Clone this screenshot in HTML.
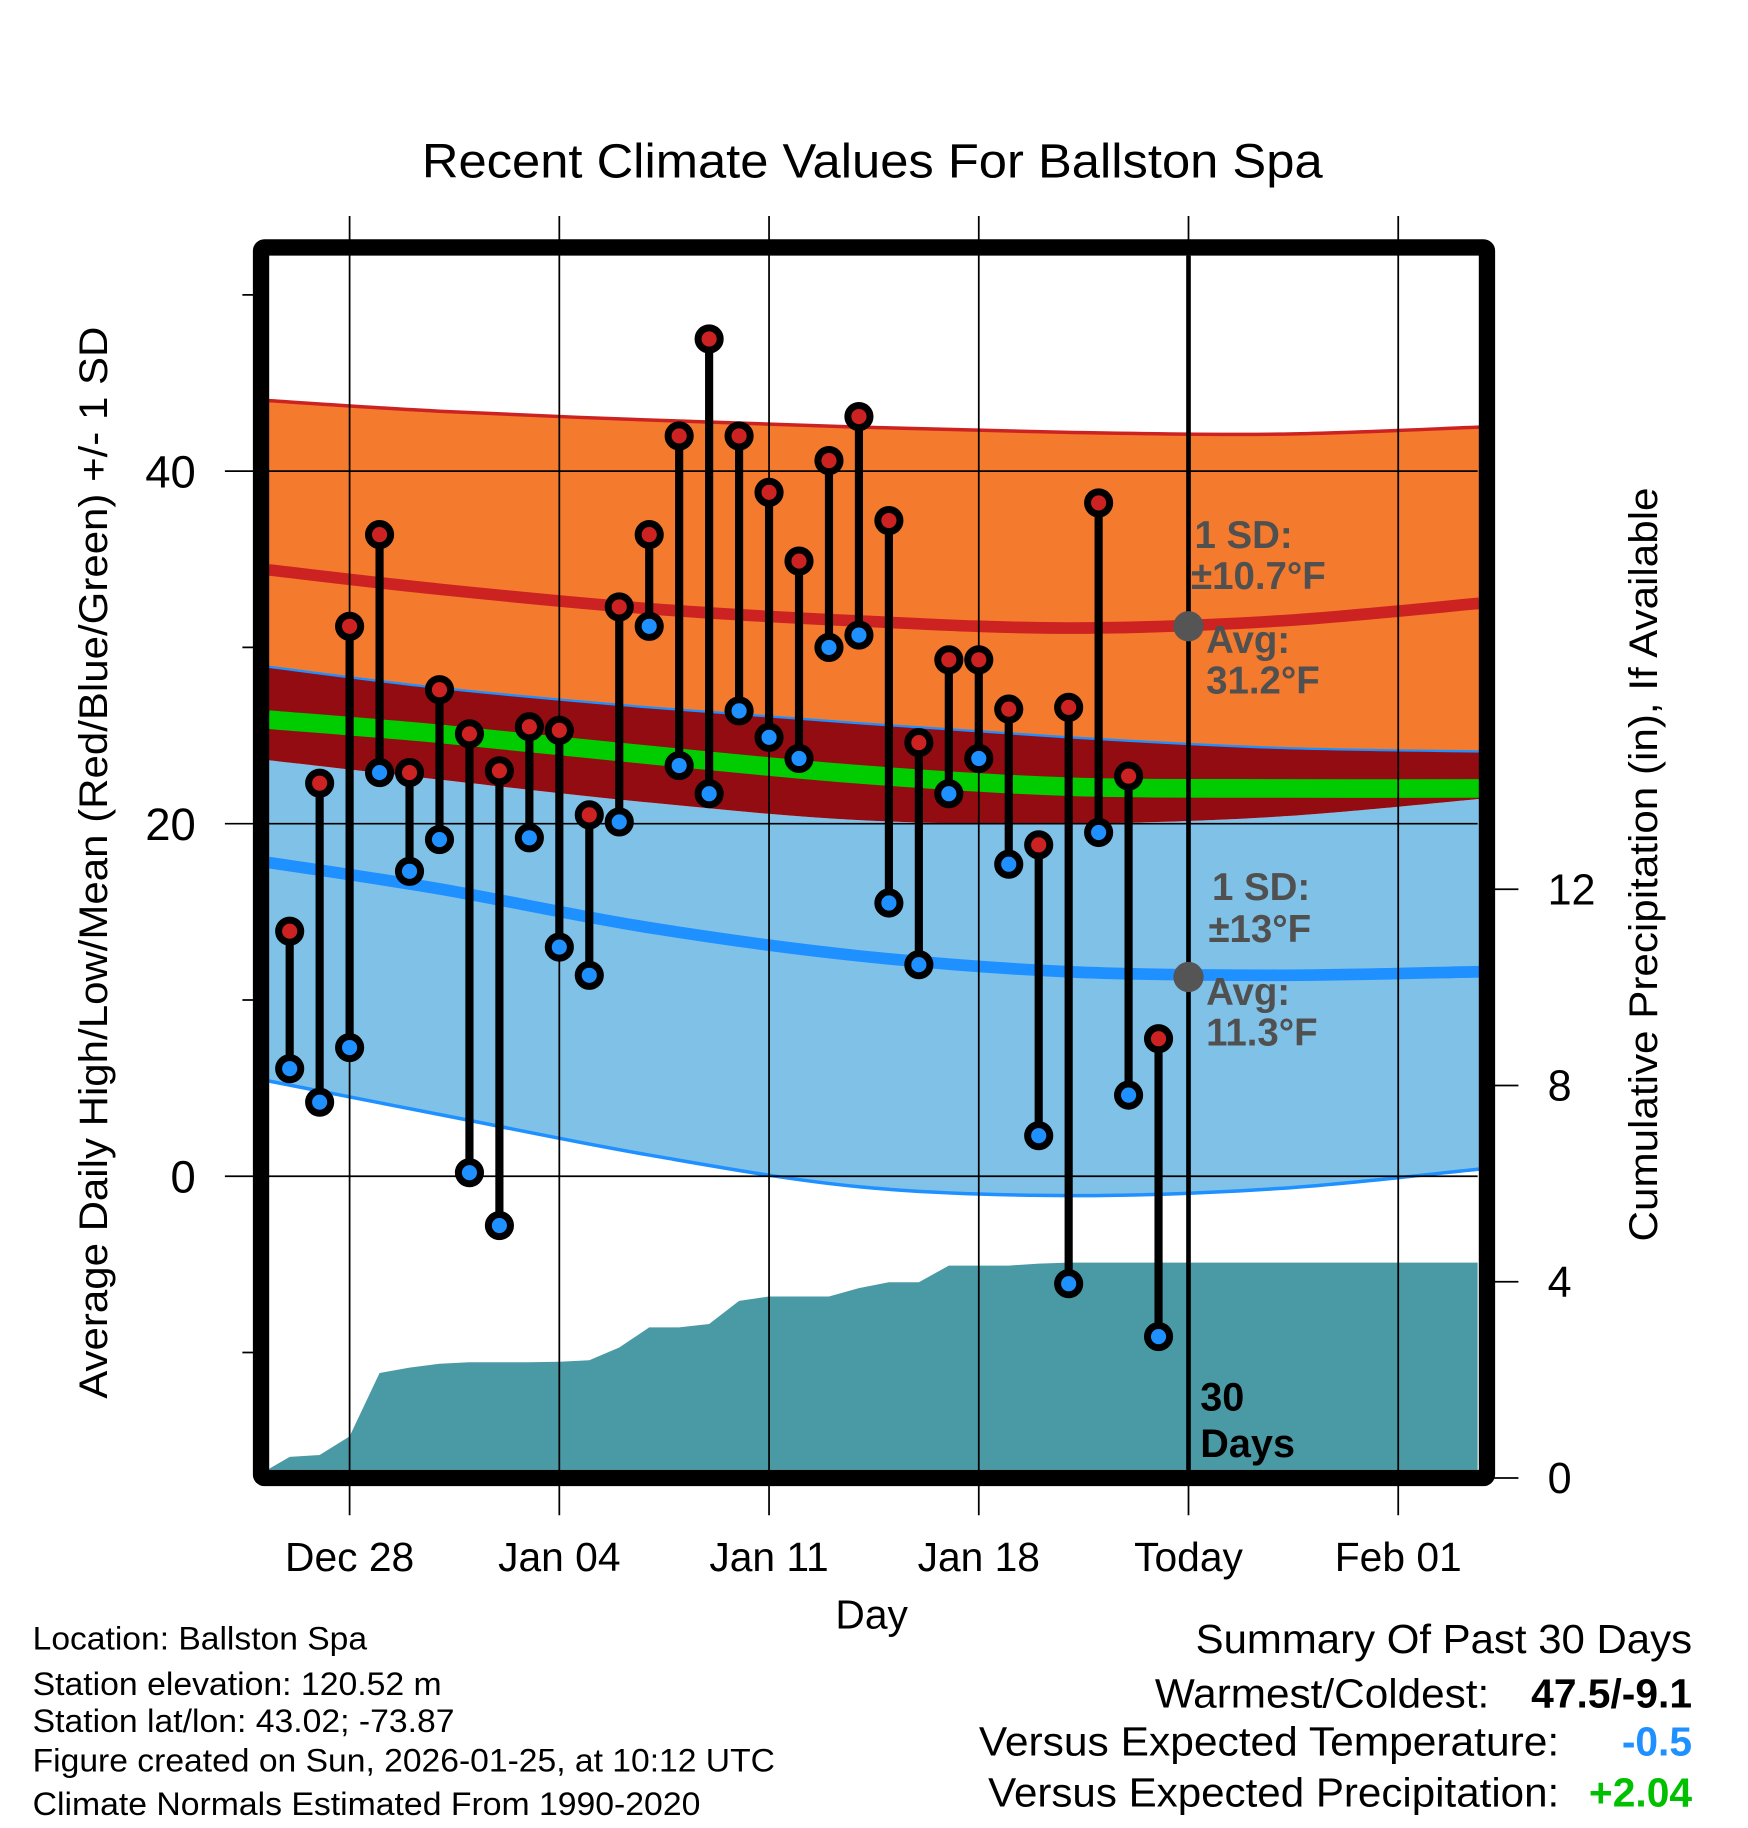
<!DOCTYPE html>
<html><head><meta charset="utf-8"><style>
html,body{margin:0;padding:0;background:#fff}
svg{display:block}
text{font-family:"Liberation Sans",sans-serif}
</style></head><body>
<svg id="chart" xmlns="http://www.w3.org/2000/svg" width="1748" height="1828" viewBox="0 0 1500 1568">
<rect x="0" y="0" width="1500" height="1568" fill="#fff"/>
<text x="362" y="152" font-size="41" textLength="773" lengthAdjust="spacingAndGlyphs">Recent Climate Values For Ballston Spa</text>
<g id="plot"></g>
<text x="748" y="1397" font-size="35" text-anchor="middle">Day</text>
<text transform="translate(92,1200) rotate(-90)" font-size="34" textLength="920" lengthAdjust="spacingAndGlyphs">Average Daily High/Low/Mean (Red/Blue/Green) +/- 1 SD</text>
<text transform="translate(1422,1065) rotate(-90)" font-size="34" textLength="647" lengthAdjust="spacingAndGlyphs">Cumulative Precipitation (in), If Available</text>
<g font-size="28">
<text x="28" y="1415" textLength="287" lengthAdjust="spacingAndGlyphs">Location: Ballston Spa</text>
<text x="28" y="1454" textLength="351" lengthAdjust="spacingAndGlyphs">Station elevation: 120.52 m</text>
<text x="28" y="1486" textLength="362" lengthAdjust="spacingAndGlyphs">Station lat/lon: 43.02; -73.87</text>
<text x="28" y="1520" textLength="637" lengthAdjust="spacingAndGlyphs">Figure created on Sun, 2026-01-25, at 10:12 UTC</text>
<text x="28" y="1557" textLength="573" lengthAdjust="spacingAndGlyphs">Climate Normals Estimated From 1990-2020</text>
</g>
<g font-size="35">
<text x="1026" y="1418" textLength="426" lengthAdjust="spacingAndGlyphs">Summary Of Past 30 Days</text>
<text x="991" y="1465" textLength="287" lengthAdjust="spacingAndGlyphs">Warmest/Coldest:</text>
<text x="1452" y="1465" text-anchor="end" font-weight="bold">47.5/-9.1</text>
<text x="840" y="1506" textLength="498" lengthAdjust="spacingAndGlyphs">Versus Expected Temperature:</text>
<text x="1452" y="1506" text-anchor="end" font-weight="bold" fill="#1e90ff">-0.5</text>
<text x="848" y="1550" textLength="490" lengthAdjust="spacingAndGlyphs">Versus Expected Precipitation:</text>
<text x="1452" y="1550" text-anchor="end" font-weight="bold" fill="#00c000">+2.04</text>
</g>
</svg>
<script>
const days=[-2,-1,0,1,2,3,4,5,6,7,8,9,10,11,12,13,14,15,16,17,18,19,20,21,22,23,24,25,26,27];
const highs=[13.9,22.3,31.2,36.4,22.9,27.6,25.1,23.0,25.5,25.3,20.5,32.3,36.4,42.0,47.5,42.0,38.8,34.9,40.6,43.1,37.2,24.6,29.3,29.3,26.5,18.8,26.6,38.2,22.7,7.8];
const lows=[6.1,4.2,7.3,22.9,17.3,19.1,0.2,-2.8,19.2,13.0,11.4,20.1,31.2,23.3,21.7,26.4,24.9,23.7,30.0,30.7,15.5,12.0,21.7,23.7,17.7,2.3,-6.1,19.5,4.6,-9.1];
const precip=[0.43,0.47,0.85,2.14,2.25,2.33,2.36,2.36,2.36,2.37,2.40,2.66,3.07,3.07,3.14,3.61,3.70,3.70,3.70,3.87,3.99,3.99,4.33,4.33,4.33,4.37,4.39,4.39,4.39,4.39];
const normDays=[-2.7,3,10,17,24,31,37.7];
const highUpper=[44.0,43.4,42.9,42.5,42.2,42.1,42.5];
const highNormal=[34.4,33.3,32.2,31.5,31.1,31.5,32.5];
const highLower=[28.9,27.7,26.6,25.7,24.9,24.3,24.1];
const meanNormal=[25.9,25.1,23.9,22.8,22.1,22.0,22.0];
const lowUpper=[23.6,22.5,21.2,20.2,20.0,20.4,21.4];
const lowNormal=[17.8,16.3,14.1,12.5,11.6,11.4,11.6];
const lowLower=[5.4,3.5,1.2,-0.6,-1.1,-0.7,0.4];
const xTickDays=[0,7,14,21,28,35];
const xTickLabels=["Dec 28","Jan 04","Jan 11","Jan 18","Today","Feb 01"];
const yTicks=[0,20,40];
const yMinor=[-10,10,30,50];
const y2Ticks=[0,4,8,12];

const X0=231,X1=1268,Y0=219,Y1=1261;
const x=d=>300+25.71*d;
const y=t=>1009-15.125*t;
const yp=p=>1268-42.1*p;
const NS="http://www.w3.org/2000/svg";
const plot=document.getElementById('plot');
function mk(tag,attrs,parent){const e=document.createElementNS(NS,tag);for(const k in attrs)e.setAttribute(k,attrs[k]);(parent||plot).appendChild(e);return e;}
function curve(vals,dir){
  let pts=normDays.map((d,i)=>[x(d),y(vals[i])]);
  if(dir<0)pts=pts.slice().reverse();
  let s='';
  for(let i=0;i<pts.length-1;i++){
    const p0=pts[Math.max(0,i-1)],p1=pts[i],p2=pts[i+1],p3=pts[Math.min(pts.length-1,i+2)];
    const c1=[p1[0]+(p2[0]-p0[0])/6,p1[1]+(p2[1]-p0[1])/6];
    const c2=[p2[0]-(p3[0]-p1[0])/6,p2[1]-(p3[1]-p1[1])/6];
    s+=` C${c1[0]},${c1[1]} ${c2[0]},${c2[1]} ${p2[0]},${p2[1]}`;
  }
  return {start:pts[0],seg:s};
}
function band(up,lo,fill,name){
  const a=curve(up,1),b=curve(lo,-1);
  const p=mk('path',{d:`M${a.start[0]},${a.start[1]}${a.seg} L${b.start[0]},${b.start[1]}${b.seg} Z`,fill:fill});
  
  
}
function line(vals,stroke,w,name){
  const a=curve(vals,1);
  const p=mk('path',{d:`M${a.start[0]},${a.start[1]}${a.seg}`,fill:'none',stroke:stroke,'stroke-width':w});
  
  
}
band(highUpper,highLower,'#f47a2e','high-sd-band');
band(lowUpper,lowLower,'#80c1e7','low-sd-band');
band(highLower,lowUpper,'#920c12','overlap-band');
line(meanNormal,'#00cc00',16,'mean-normal-line');
line(highUpper,'#cc2222',3,'high-upper-edge');
line(highLower,'#1e90ff',2,'high-lower-edge');
line(lowLower,'#1e90ff',3,'low-lower-edge');
line(highNormal,'#cc2222',10,'high-normal-line');
line(lowNormal,'#1e90ff',10,'low-normal-line');
let pd=`M${X0},${Y1} L${x(-2.75)},${Y1}`;
days.forEach((d,i)=>{pd+=` L${x(d)},${yp(precip[i])}`;});
pd+=` L${X1},${yp(precip[precip.length-1])} L${X1},${Y1} Z`;
const pa=mk('path',{d:pd,fill:'#4a9aa5'});


xTickDays.forEach((d,i)=>{
  const gl=mk('line',{x1:x(d),x2:x(d),y1:185,y2:1300,stroke:'#000','stroke-width':1.5});
  
  
  const t=mk('text',{x:x(d),y:1348,'font-size':35,'text-anchor':'middle'});t.textContent=xTickLabels[i];
  
  
});
yTicks.forEach(v=>{
  const gl=mk('line',{x1:193,x2:X1,y1:y(v),y2:y(v),stroke:'#000','stroke-width':1.5});
  
  
  const t=mk('text',{x:168,y:y(v)+14,'font-size':39,'text-anchor':'end'});t.textContent=v;
  
  
});
yMinor.forEach(v=>{
  const tk=mk('line',{x1:208,x2:224,y1:y(v),y2:y(v),stroke:'#000','stroke-width':1.5});
  
  
});
y2Ticks.forEach(v=>{
  const tk=mk('line',{x1:1276,x2:1303,y1:yp(v),y2:yp(v),stroke:'#000','stroke-width':1.5});
  
  
  const t=mk('text',{x:1328,y:yp(v)+13,'font-size':37});t.textContent=v;
  
  
});
const tl=mk('line',{x1:x(28),x2:x(28),y1:Y0,y2:Y1,stroke:'#000','stroke-width':4});


const ann=[['1 SD:',1025,470],['\u00b110.7\u00b0F',1022,505],['Avg:',1035,560],['31.2\u00b0F',1035,595],['1 SD:',1040,772],['\u00b113\u00b0F',1037,808],['Avg:',1035,862],['11.3\u00b0F',1035,897]];
ann.forEach(a=>{const t=mk('text',{x:a[1],y:a[2],'font-size':33,'font-weight':'bold',fill:'#505050'});t.textContent=a[0];
  
  });
[31.2,11.3].forEach(v=>{const c=mk('circle',{cx:x(28),cy:y(v),r:13,fill:'#555'});
  
  });
[['30',1210],['Days',1250]].forEach(a=>{const t=mk('text',{x:1030,y:a[1],'font-size':34,'font-weight':'bold'});t.textContent=a[0];
  
  });
days.forEach((d,i)=>{
  const s=mk('line',{x1:x(d),x2:x(d),y1:y(highs[i]),y2:y(lows[i]),stroke:'#000','stroke-width':7});
  
  
});
days.forEach((d,i)=>{
  [[highs[i],'#cc2222','high-point'],[lows[i],'#1e90ff','low-point']].forEach(p=>{
    const c=mk('circle',{cx:x(d),cy:y(p[0]),r:9.5,fill:p[1],stroke:'#000','stroke-width':6});
    
    
  });
});
const fr=mk('rect',{x:224,y:212,width:1052,height:1056,fill:'none',stroke:'#000','stroke-width':14,rx:3});


</script>
</body></html>
